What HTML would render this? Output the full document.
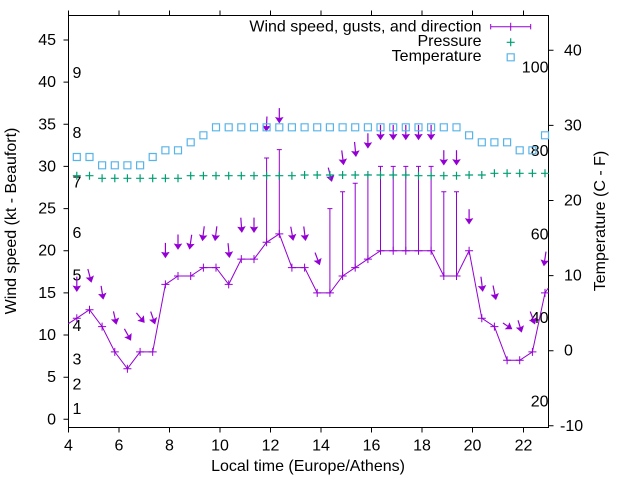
<!DOCTYPE html>
<html><head><meta charset="utf-8">
<style>
html,body{margin:0;padding:0;background:#fff}
svg{display:block}
text{font-family:"Liberation Sans",Arial,sans-serif;font-size:16px;fill:#000}
</style></head>
<body>
<svg width="640" height="480" viewBox="0 0 640 480" xmlns="http://www.w3.org/2000/svg">
<defs>
<marker id="ah" viewBox="-6 -5 7 10" refX="0" refY="0" markerWidth="7" markerHeight="10" markerUnits="userSpaceOnUse" orient="auto" style="overflow:visible">
<path d="M0.8,0L-4.6,-3.6L-3.8,0L-4.6,3.6Z" fill="#9400d3" stroke="#9400d3" stroke-width="0.6"/>
</marker>
</defs>
<rect width="640" height="480" fill="#fff"/>

<!-- border and ticks -->
<g stroke="#000" stroke-width="1" fill="none">
<path d="M68.5 15.5H548.5V427.5H68.5Z"/>
<path d="M63.5 419.3h5M63.5 377.2h5M63.5 335h5M63.5 292.9h5M63.5 250.7h5M63.5 208.6h5M63.5 166.4h5M63.5 124.3h5M63.5 82.1h5M63.5 40h5"/>
<path d="M68.5 427.5v5M119 427.5v5M169.5 427.5v5M220 427.5v5M270.5 427.5v5M321 427.5v5M371.5 427.5v5M422 427.5v5M472.5 427.5v5M523.5 427.5v5"/>
<path d="M68.5 15.5v-5M119 15.5v-5M169.5 15.5v-5M220 15.5v-5M270.5 15.5v-5M321 15.5v-5M371.5 15.5v-5M422 15.5v-5M472.5 15.5v-5M523.5 15.5v-5"/>
<path d="M548.5 425.8h5M548.5 350.7h5M548.5 275.6h5M548.5 200.5h5M548.5 125.4h5M548.5 50.3h5"/>
</g>

<!-- left tick labels -->
<g text-anchor="end">
<text x="56" y="424.3">0</text>
<text x="56" y="382.2">5</text>
<text x="56" y="340">10</text>
<text x="56" y="297.9">15</text>
<text x="56" y="255.7">20</text>
<text x="56" y="213.6">25</text>
<text x="56" y="171.4">30</text>
<text x="56" y="129.3">35</text>
<text x="56" y="87.1">40</text>
<text x="56" y="45">45</text>
</g>

<!-- right tick labels -->
<text x="560" y="430.8">-10</text>
<text x="564" y="355.7">0</text>
<text x="564" y="280.6">10</text>
<text x="564" y="205.5">20</text>
<text x="564" y="130.4">30</text>
<text x="564" y="55.3">40</text>

<!-- x tick labels -->
<g text-anchor="middle">
<text x="68.5" y="450.5">4</text>
<text x="119" y="450.5">6</text>
<text x="169.5" y="450.5">8</text>
<text x="220" y="450.5">10</text>
<text x="270.5" y="450.5">12</text>
<text x="321" y="450.5">14</text>
<text x="371.5" y="450.5">16</text>
<text x="422" y="450.5">18</text>
<text x="472.5" y="450.5">20</text>
<text x="523.5" y="450.5">22</text>
</g>

<!-- axis labels -->
<text x="308" y="471" text-anchor="middle">Local time (Europe/Athens)</text>
<text transform="translate(16,221) rotate(-90)" text-anchor="middle">Wind speed (kt - Beaufort)</text>
<text transform="translate(605,221) rotate(-90)" text-anchor="middle">Temperature (C - F)</text>

<!-- Beaufort labels -->
<text x="72.5" y="78">9</text>
<text x="72.5" y="137.8">8</text>
<text x="72.5" y="187.5">7</text>
<text x="72.5" y="238">6</text>
<text x="72.5" y="280.5">5</text>
<text x="72.5" y="331">4</text>
<text x="72.5" y="364.5">3</text>
<text x="72.5" y="389.5">2</text>
<text x="72.5" y="413.8">1</text>

<!-- Fahrenheit labels -->
<g text-anchor="end">
<text x="548.5" y="72.4">100</text>
<text x="548.5" y="155.9">80</text>
<text x="548.5" y="239.4">60</text>
<text x="548.5" y="322.8">40</text>
<text x="548.5" y="406.3">20</text>
</g>

<!-- wind speed line -->
<g stroke="#9400d3" stroke-width="1" fill="none">
<polyline points="68.3,323.7 76.8,318.2 89.5,309.7 102.1,326.6 114.8,351.9 127.4,368.7 140.1,351.9 152.7,351.9 165.4,284.4 178,276 190.7,276 203.4,267.6 216,267.6 228.7,284.4 241.3,259.1 254,259.1 266.6,242.3 279.3,233.9 291.9,267.6 304.6,267.6 317.2,292.9 329.9,292.9 342.6,276 355.2,267.6 367.9,259.1 380.5,250.7 393.2,250.7 405.8,250.7 418.5,250.7 431.1,250.7 443.8,276 456.5,276 469.1,250.7 481.8,318.2 494.4,326.6 507.1,360.3 519.7,360.3 532.4,351.9 545,292.9 548.3,288"/>
<path d="M72.8 318.2h8M76.8 314.2v8M85.5 309.7h8M89.5 305.7v8M98.1 326.6h8M102.1 322.6v8M110.8 351.9h8M114.8 347.9v8M123.4 368.7h8M127.4 364.7v8M136.1 351.9h8M140.1 347.9v8M148.7 351.9h8M152.7 347.9v8M161.4 284.4h8M165.4 280.4v8M174 276h8M178 272v8M186.7 276h8M190.7 272v8M199.4 267.6h8M203.4 263.6v8M212 267.6h8M216 263.6v8M224.7 284.4h8M228.7 280.4v8M237.3 259.1h8M241.3 255.1v8M250 259.1h8M254 255.1v8M262.6 242.3h8M266.6 238.3v8M275.3 233.9h8M279.3 229.9v8M287.9 267.6h8M291.9 263.6v8M300.6 267.6h8M304.6 263.6v8M313.2 292.9h8M317.2 288.9v8M325.9 292.9h8M329.9 288.9v8M338.6 276h8M342.6 272v8M351.2 267.6h8M355.2 263.6v8M363.9 259.1h8M367.9 255.1v8M376.5 250.7h8M380.5 246.7v8M389.2 250.7h8M393.2 246.7v8M401.8 250.7h8M405.8 246.7v8M414.5 250.7h8M418.5 246.7v8M427.1 250.7h8M431.1 246.7v8M439.8 276h8M443.8 272v8M452.5 276h8M456.5 272v8M465.1 250.7h8M469.1 246.7v8M477.8 318.2h8M481.8 314.2v8M490.4 326.6h8M494.4 322.6v8M503.1 360.3h8M507.1 356.3v8M515.7 360.3h8M519.7 356.3v8M528.4 351.9h8M532.4 347.9v8M541 292.9h8M545 288.9v8"/>
<!-- gust error bars -->
<path d="M266.6 242.3V158M264.1 158h5M279.3 233.9V149.6M276.8 149.6h5M329.9 292.9V208.6M327.4 208.6h5M342.6 276V191.7M340.1 191.7h5M355.2 267.6V183.3M352.7 183.3h5M367.9 259.1V174.9M365.4 174.9h5M380.5 250.7V166.4M378 166.4h5M393.2 250.7V166.4M390.7 166.4h5M405.8 250.7V166.4M403.3 166.4h5M418.5 250.7V166.4M416 166.4h5M431.1 250.7V166.4M428.6 166.4h5M443.8 276V191.7M441.3 191.7h5M456.5 276V191.7M454 191.7h5"/>
</g>

<!-- direction arrows -->
<g stroke="#9400d3" stroke-width="1.2" marker-end="url(#ah)">
<line x1="76.8" y1="276.6" x2="76.8" y2="290.6"/>
<line x1="87.85" y1="269" x2="91.15" y2="281.4"/>
<line x1="101.1" y1="285.85" x2="103.1" y2="298.35"/>
<line x1="113.45" y1="311.4" x2="116.15" y2="323.4"/>
<line x1="124.4" y1="328.85" x2="130.4" y2="339.55"/>
<line x1="136.4" y1="312.9" x2="143.8" y2="321.9"/>
<line x1="150.7" y1="311.6" x2="154.7" y2="323.2"/>
<line x1="165.4" y1="242.9" x2="165.4" y2="256.9"/>
<line x1="178" y1="234.5" x2="178" y2="248.5"/>
<line x1="191.7" y1="234.75" x2="189.7" y2="248.25"/>
<line x1="204.25" y1="226.35" x2="202.55" y2="239.85"/>
<line x1="216.85" y1="226.35" x2="215.15" y2="239.85"/>
<line x1="228.05" y1="243.15" x2="229.35" y2="256.65"/>
<line x1="240.8" y1="217.7" x2="241.8" y2="231.5"/>
<line x1="254" y1="217.6" x2="254" y2="231.6"/>
<line x1="266.95" y1="116.5" x2="266.25" y2="130.5"/>
<line x1="279.3" y1="108.1" x2="279.3" y2="122.1"/>
<line x1="290.75" y1="226.7" x2="293.05" y2="239.5"/>
<line x1="303.75" y1="226.5" x2="305.45" y2="239.7"/>
<line x1="315.05" y1="252.55" x2="319.35" y2="264.05"/>
<line x1="328.25" y1="167.6" x2="331.55" y2="180.6"/>
<line x1="341.75" y1="150.45" x2="343.45" y2="163.95"/>
<line x1="354.55" y1="141.95" x2="355.85" y2="155.65"/>
<line x1="367.9" y1="133.3" x2="367.9" y2="147.3"/>
<line x1="380.5" y1="124.9" x2="380.5" y2="138.9"/>
<line x1="393.2" y1="124.9" x2="393.2" y2="138.9"/>
<line x1="405.8" y1="124.9" x2="405.8" y2="138.9"/>
<line x1="418.5" y1="124.9" x2="418.5" y2="138.9"/>
<line x1="431.1" y1="124.9" x2="431.1" y2="138.9"/>
<line x1="443.8" y1="150.2" x2="443.8" y2="164.2"/>
<line x1="456.5" y1="150.2" x2="456.5" y2="164.2"/>
<line x1="469.1" y1="209.2" x2="469.1" y2="223.2"/>
<line x1="480.95" y1="276.7" x2="482.65" y2="290.5"/>
<line x1="493.05" y1="285.45" x2="495.75" y2="298.75"/>
<line x1="502.95" y1="323.05" x2="511.25" y2="328.55"/>
<line x1="518.05" y1="320.3" x2="521.35" y2="331.3"/>
<line x1="530.25" y1="311.55" x2="534.55" y2="323.25"/>
<line x1="546" y1="251.65" x2="544" y2="264.95"/>
</g>

<!-- pressure -->
<path stroke="#009e73" stroke-width="1.2" fill="none" d="M72.8 175.7h8M76.8 171.7v8M85.5 175.7h8M89.5 171.7v8M98.1 178.3h8M102.1 174.3v8M110.8 178.3h8M114.8 174.3v8M123.4 178.3h8M127.4 174.3v8M136.1 178.3h8M140.1 174.3v8M148.7 178.3h8M152.7 174.3v8M161.4 178.3h8M165.4 174.3v8M174 178.3h8M178 174.3v8M186.7 175.7h8M190.7 171.7v8M199.4 175.7h8M203.4 171.7v8M212 175.7h8M216 171.7v8M224.7 175.7h8M228.7 171.7v8M237.3 175.7h8M241.3 171.7v8M250 175.7h8M254 171.7v8M262.6 175.7h8M266.6 171.7v8M275.3 175.7h8M279.3 171.7v8M287.9 175.7h8M291.9 171.7v8M300.6 175h8M304.6 171v8M313.2 175h8M317.2 171v8M325.9 175h8M329.9 171v8M338.6 175h8M342.6 171v8M351.2 175h8M355.2 171v8M363.9 175h8M367.9 171v8M376.5 175h8M380.5 171v8M389.2 175h8M393.2 171v8M401.8 175h8M405.8 171v8M414.5 175.7h8M418.5 171.7v8M427.1 175.7h8M431.1 171.7v8M439.8 175.7h8M443.8 171.7v8M452.5 175.7h8M456.5 171.7v8M465.1 175h8M469.1 171v8M477.8 175h8M481.8 171v8M490.4 173.3h8M494.4 169.3v8M503.1 173.3h8M507.1 169.3v8M515.7 173.3h8M519.7 169.3v8M528.4 173.3h8M532.4 169.3v8M541 173.3h8M545 169.3v8"/>

<!-- temperature -->
<path stroke="#56b4e9" stroke-width="1.2" fill="none" d="M73.3 153.5h7v7h-7zM86 153.5h7v7h-7zM98.6 161.8h7v7h-7zM111.3 161.8h7v7h-7zM123.9 161.8h7v7h-7zM136.6 161.8h7v7h-7zM149.2 153.5h7v7h-7zM161.9 146.8h7v7h-7zM174.5 146.8h7v7h-7zM187.2 138.8h7v7h-7zM199.9 131.8h7v7h-7zM212.5 123.8h7v7h-7zM225.2 123.8h7v7h-7zM237.8 123.8h7v7h-7zM250.5 123.8h7v7h-7zM263.1 123.8h7v7h-7zM275.8 123.8h7v7h-7zM288.4 123.8h7v7h-7zM301.1 123.8h7v7h-7zM313.7 123.8h7v7h-7zM326.4 123.8h7v7h-7zM339.1 123.8h7v7h-7zM351.7 123.8h7v7h-7zM364.4 123.8h7v7h-7zM377 123.8h7v7h-7zM389.7 123.8h7v7h-7zM402.3 123.8h7v7h-7zM415 123.8h7v7h-7zM427.6 123.8h7v7h-7zM440.3 123.8h7v7h-7zM453 123.8h7v7h-7zM465.6 131.8h7v7h-7zM478.3 138.8h7v7h-7zM490.9 138.8h7v7h-7zM503.6 138.8h7v7h-7zM516.2 146.8h7v7h-7zM528.9 146.8h7v7h-7zM541.5 131.8h7v7h-7z"/>

<!-- legend -->
<g text-anchor="end">
<text x="481.5" y="31.5">Wind speed, gusts, and direction</text>
<text x="481.5" y="46">Pressure</text>
<text x="481.5" y="61">Temperature</text>
</g>
<path stroke="#9400d3" stroke-width="1" fill="none" d="M490.7 26.7H530.7M490.7 24v5.4M530.7 24v5.4M510.7 22.8v8"/>
<path stroke="#009e73" stroke-width="1.2" fill="none" d="M506.7 42.3h8M510.7 38.3v8"/>
<path stroke="#56b4e9" stroke-width="1.2" fill="none" d="M507.2 53.8h7v7h-7z"/>
</svg>
</body></html>
